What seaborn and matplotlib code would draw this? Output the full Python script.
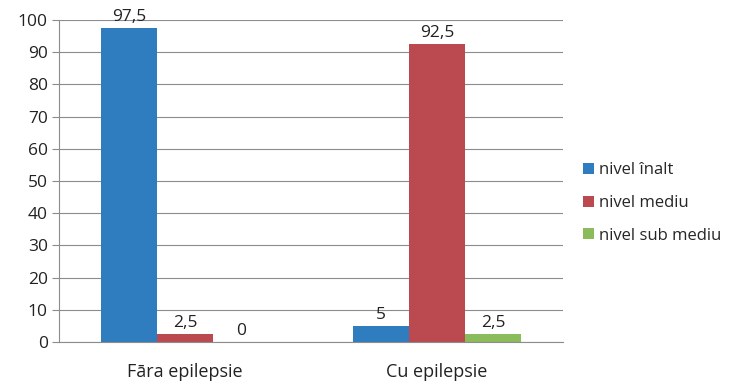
import matplotlib
matplotlib.use("Agg")
import matplotlib.pyplot as plt
import seaborn as sns
import pandas as pd

categories = ["Fāra epilepsie", "Cu epilepsie"]
series = ["nivel înalt", "nivel mediu", "nivel sub mediu"]
nivel_inalt = [97.5, 5]
nivel_mediu = [2.5, 92.5]
nivel_sub_mediu = [0, 2.5]
yticks = [0, 10, 20, 30, 40, 50, 60, 70, 80, 90, 100]

colors = ["#2F7DBE", "#BA4A4F", "#8BBB5A"]

rows = []
for s, vals in zip(series, [nivel_inalt, nivel_mediu, nivel_sub_mediu]):
    for c, v in zip(categories, vals):
        rows.append({"cat": c, "serie": s, "val": v})
df = pd.DataFrame(rows)

sns.set_style("white")
plt.rcParams["font.family"] = ["Open Sans", "DejaVu Sans"]

fig = plt.figure(figsize=(7.35, 3.83), dpi=100)
ax = fig.add_axes([59/735, 1-342/383, (563-59)/735, (342-20)/383])

sns.barplot(data=df, x="cat", y="val", hue="serie", order=categories,
            hue_order=series, palette=colors, width=2/3, saturation=1,
            linewidth=0, ax=ax, legend=True)

ax.set_xlim(-0.5, 1.5)
ax.set_ylim(0, 100)
ax.set_yticks(yticks)
ax.set_yticklabels([str(t) for t in yticks], fontsize=12.5, color="#222222")
ax.yaxis.grid(True, color="#8c8c8c", linewidth=0.8)
ax.set_axisbelow(True)
ax.set_xlabel("")
ax.set_ylabel("")

ax.tick_params(axis="x", which="major", length=0, pad=15, labelsize=13, labelcolor="#222222")
ax.set_xticks([-0.5, 0.5, 1.5], minor=True)
ax.tick_params(axis="x", which="minor", length=6, color="#8c8c8c", width=0.8)
ax.tick_params(axis="y", length=5, color="#8c8c8c", width=0.8, left=True, pad=3)

for sp in ["top", "right"]:
    ax.spines[sp].set_visible(False)
for sp in ["left", "bottom"]:
    ax.spines[sp].set_color("#8c8c8c")
    ax.spines[sp].set_linewidth(0.8)

for cont in ax.containers:
    labels = [f"{v:g}".replace(".", ",") for v in cont.datavalues]
    ax.bar_label(cont, labels=labels, padding=2, fontsize=12.5, color="#222222")

handles, labs = ax.get_legend_handles_labels()
ax.legend(handles, labs, loc="center left", bbox_to_anchor=(583/735, 1-203/383),
          bbox_transform=fig.transFigure, frameon=False, fontsize=12,
          handlelength=0.65, handleheight=0.65, handletextpad=0.3, labelspacing=1.0,
          borderpad=0, borderaxespad=0)

fig.savefig("out.png", dpi=100)
